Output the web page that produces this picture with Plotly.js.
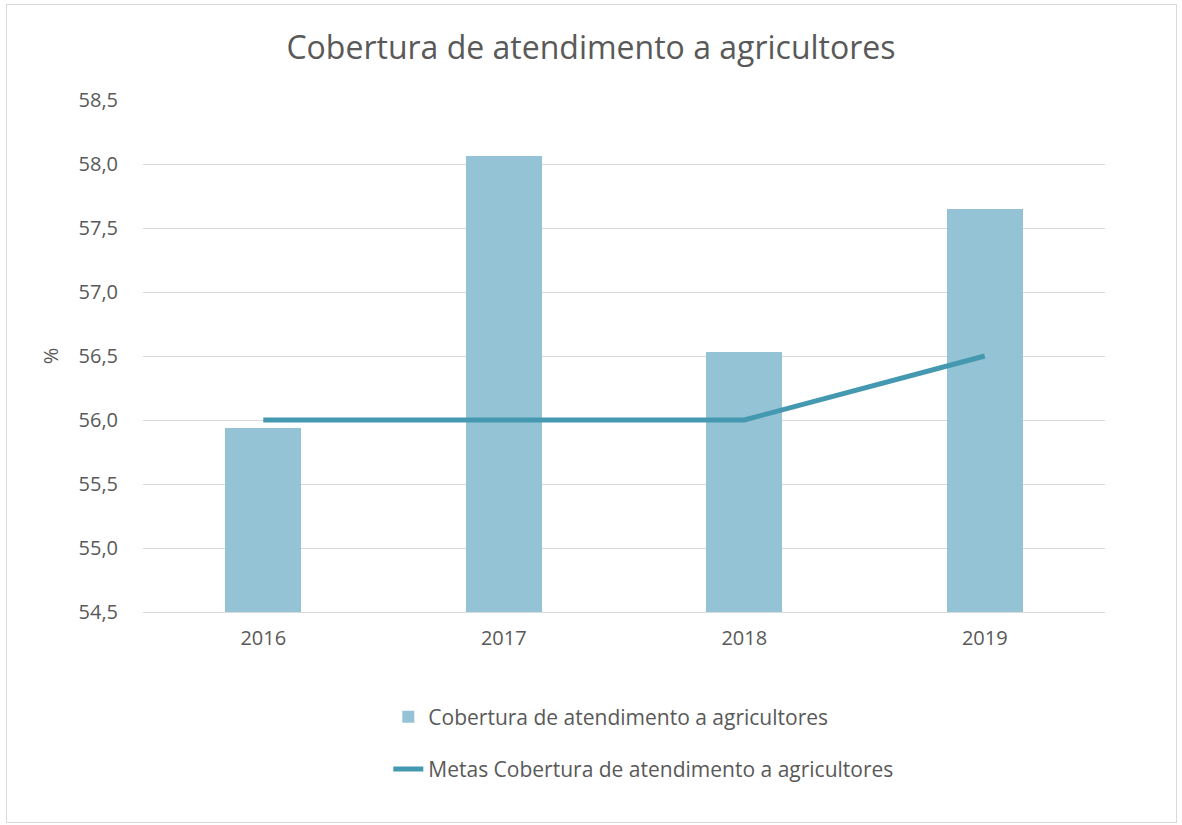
<!DOCTYPE html>
<html>
<head>
<meta charset="utf-8">
<script src="https://cdn.plot.ly/plotly-3.0.1.min.js"></script>
<style>
body{margin:0;padding:0;background:#fff;}
#chart{width:1182px;height:825px;}
#frame{position:absolute;left:6px;top:4px;width:1169px;height:817px;border:1px solid #d9d9d9;pointer-events:none;}
</style>
</head>
<body>
<div id="chart"></div>
<div id="frame"></div>
<script>
const years = ["2016", "2017", "2018", "2019"];
const cobertura = [55.94, 58.06, 56.53, 57.65];
const metas = [56.0, 56.0, 56.0, 56.5];
const tickVals = [54.5, 55.0, 55.5, 56.0, 56.5, 57.0, 57.5, 58.0, 58.5];
const tickText = ["54,5", "55,0", "55,5", "56,0", "56,5", "57,0", "57,5", "58,0", "58,5"];
const barName = "Cobertura de atendimento a agricultores";
const lineName = "Metas Cobertura de atendimento a agricultores";

const fontFam = "Open Sans, Noto Sans, sans-serif";
const axisBase = 54.5;

const traces = [
  {
    type: "bar", x: years, y: cobertura.map(v => v - axisBase), base: axisBase, name: barName,
    marker: {color: "#93C3D5"}, width: 0.316, legendgroup: "a"
  },
  {
    type: "scatter", mode: "lines", x: years, y: metas, name: lineName,
    line: {color: "#4499B0", width: 5}, legendgroup: "b"
  }
];

const layout = {
  width: 1182, height: 825,
  paper_bgcolor: "#ffffff", plot_bgcolor: "#ffffff",
  margin: {l: 143, r: 77, t: 100, b: 213},
  title: {text: "Cobertura de atendimento a agricultores", font: {family: fontFam, size: 32, color: "#595959"},
          x: 0.5, xanchor: "center", y: 0.942, yanchor: "middle"},
  xaxis: {type: "category", tickfont: {family: fontFam, size: 20, color: "#595959"},
          showgrid: false, showline: true, linecolor: "#d9d9d9", linewidth: 1, ticks: "outside", ticklen: 8, tickcolor: "rgba(0,0,0,0)"},
  yaxis: {range: [54.5, 58.5], tickvals: tickVals, ticktext: tickText,
          tickfont: {family: fontFam, size: 20, color: "#595959"},
          showgrid: true, gridcolor: "#d9d9d9", gridwidth: 1, zeroline: false, showline: false,
          ticks: "outside", ticklen: 20, tickcolor: "rgba(0,0,0,0)",
          title: {text: "%", font: {family: fontFam, size: 20, color: "#595959"}, standoff: 14}},
  showlegend: true,
  legend: {orientation: "v", x: 0.255, xanchor: "left", y: -0.165, yanchor: "top",
           traceorder: "grouped", tracegroupgap: 22,
           font: {family: fontFam, size: 21, color: "#595959"}},
  bargap: 0
};

Plotly.newPlot("chart", traces, layout, {displayModeBar: false, staticPlot: true});
</script>
</body>
</html>
